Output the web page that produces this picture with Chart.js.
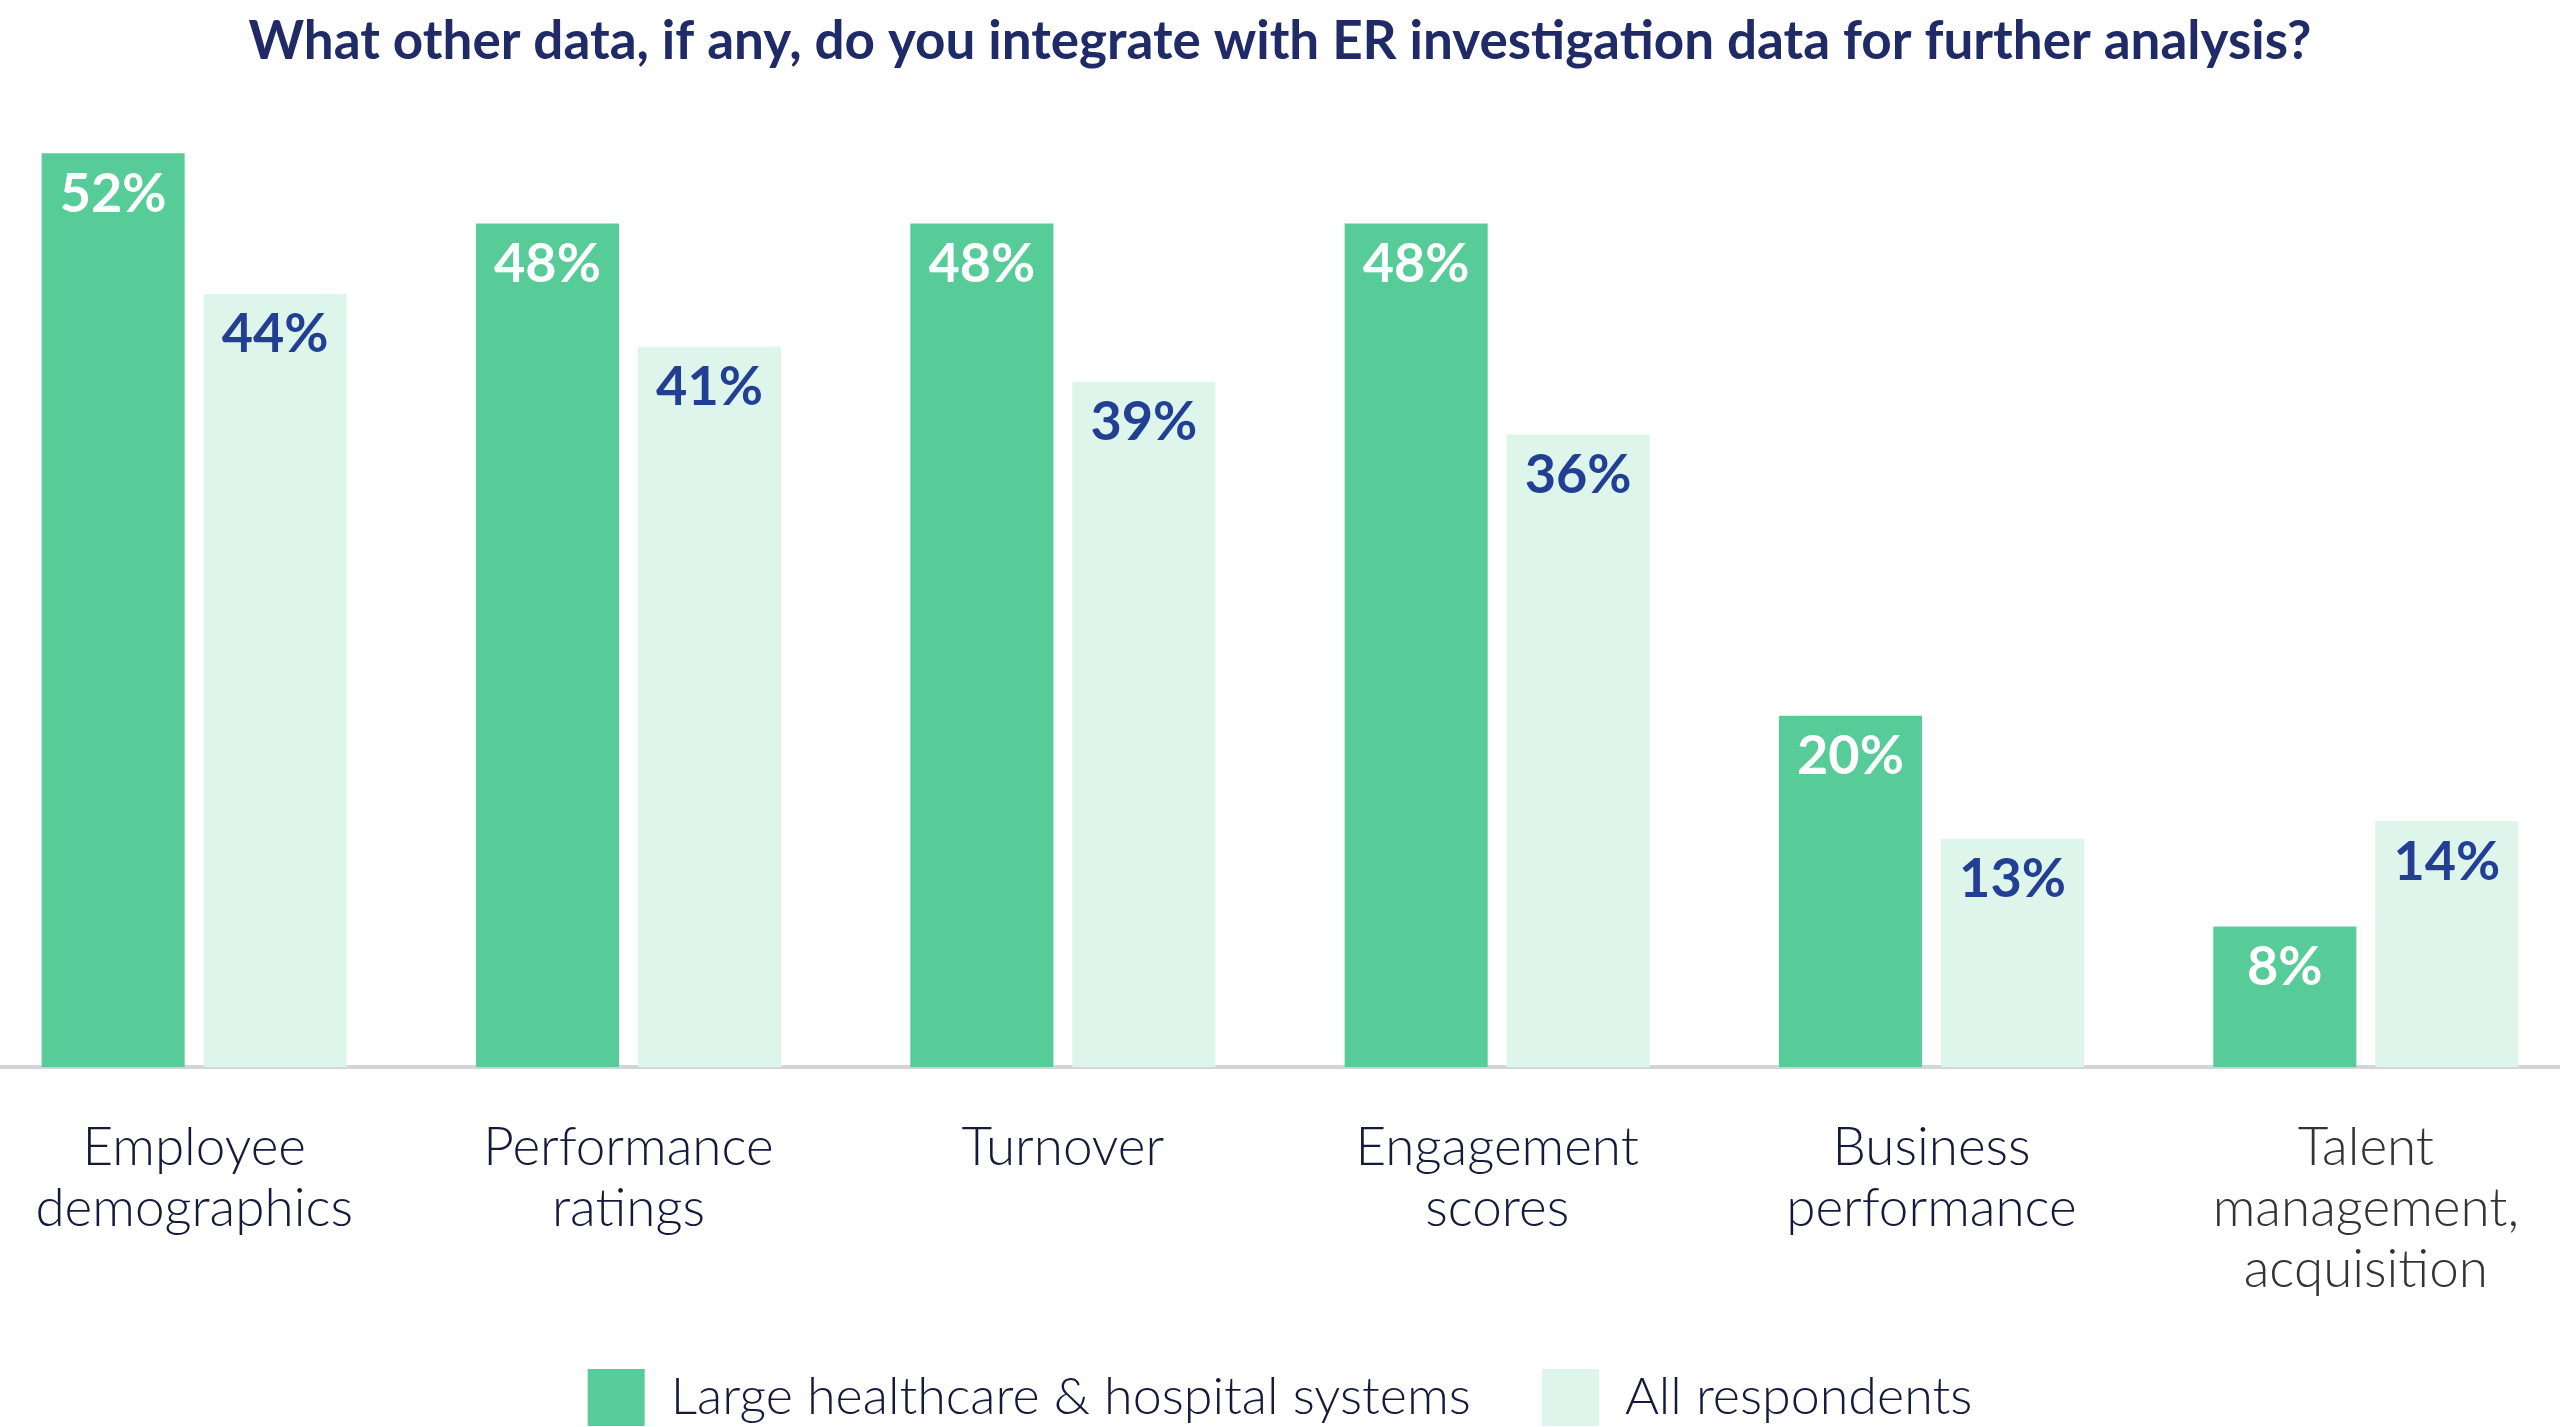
<!DOCTYPE html>
<html>
<head>
<meta charset="utf-8">
<script src="https://cdn.jsdelivr.net/npm/chart.js@4"></script>
<style>
  html, body { margin: 0; padding: 0; background: #fff; overflow: hidden; }
  #wrap { position: absolute; left: -23px; top: 0; width: 2606px; height: 1436px; }
</style>
</head>
<body>
<div id="wrap"><canvas id="barCanvas"></canvas></div>
<script>
const categories = [
    ["Employee", "demographics"],
    ["Performance", "ratings"],
    ["Turnover"],
    ["Engagement", "scores"],
    ["Business", "performance"],
    ["Talent", "management,", "acquisition"]
];
const largeHealthcare = [52, 48, 48, 48, 20, 8];
const allRespondents = [44, 41, 39, 36, 13, 14];
const seriesNames = ["Large healthcare & hospital systems", "All respondents"];

// draws the "52%" style labels inside the top of each bar
const barLabels = {
    id: "barLabels",
    afterDatasetsDraw(chart) {
        const ctx = chart.ctx;
        ctx.save();
        ctx.font = "bold 54px Lato";
        ctx.textAlign = "center";
        ctx.textBaseline = "middle";
        chart.data.datasets.forEach((ds, i) => {
            const meta = chart.getDatasetMeta(i);
            ctx.fillStyle = i === 0 ? "#ffffff" : "#233f94";
            meta.data.forEach((bar, j) => {
                ctx.fillText(ds.data[j] + "%", bar.x, bar.y + 41);
            });
        });
        ctx.restore();
    }
};

const barCanvas = document.getElementById("barCanvas");

const barChart = new Chart(barCanvas, {
    type: "bar",
    data: {
        labels: categories,
        datasets: [{
            label: seriesNames[0],
            data: largeHealthcare,
            backgroundColor: "#57cc99",
            borderWidth: 0
        }, {
            label: seriesNames[1],
            data: allRespondents,
            backgroundColor: "#ddf5ea",
            borderWidth: 0
        }]
    },
    options: {
        responsive: true,
        maintainAspectRatio: false,
        animation: false,
        layout: { padding: 0 },
        datasets: {
            bar: {
                categoryPercentage: 0.746,
                barPercentage: 0.883
            }
        },
        scales: {
            x: {
                grid: { display: false, drawTicks: false },
                border: { display: true, color: "#d3d5d8", width: 4 },
                ticks: {
                    padding: 50,
                    color: ["#141a3a", "#141a3a", "#141a3a", "#141a3a", "#141a3a", "#333333"],
                    font: { family: "Lato", size: 53, weight: 300, lineHeight: 1.15 },
                    maxRotation: 0,
                    autoSkip: false
                },
                // padding only above the labels, not below
                afterFit(scale) {
                    scale.height -= 52;
                }
            },
            y: {
                display: false,
                min: 0,
                max: 55
            }
        },
        plugins: {
            title: {
                display: true,
                text: "What other data, if any, do you integrate with ER investigation data for further analysis?",
                color: "#1f2a66",
                font: { family: "Lato", size: 53, weight: "bold", lineHeight: 1.2 },
                padding: { top: 10, bottom: 27 }
            },
            legend: {
                position: "bottom",
                labels: {
                    boxWidth: 57,
                    boxHeight: 57,
                    padding: 71,
                    color: "#141a3a",
                    font: { family: "Lato", size: 52, weight: 300 }
                }
            },
            tooltip: { enabled: false }
        }
    },
    plugins: [barLabels]
});
</script>
</body>
</html>
